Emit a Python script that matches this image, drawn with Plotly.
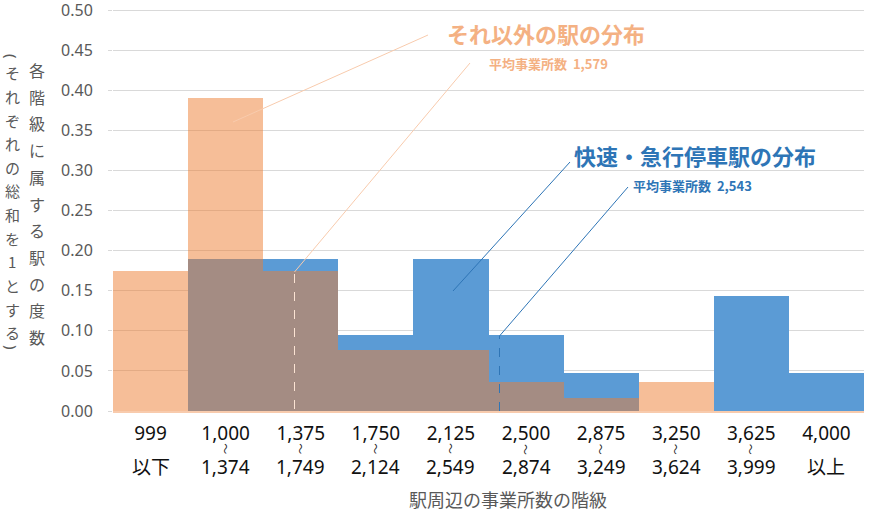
import plotly.graph_objects as go

# ---------------- data ----------------
class_top = ["999", "1,000", "1,375", "1,750", "2,125", "2,500", "2,875", "3,250", "3,625", "4,000"]
class_bottom = ["以下", "1,374", "1,749", "2,124", "2,549", "2,874", "3,249", "3,624", "3,999", "以上"]
class_is_range = [False, True, True, True, True, True, True, True, True, False]

express_share = [0.0, 0.190, 0.190, 0.095, 0.190, 0.095, 0.048, 0.0, 0.143, 0.048]
other_share = [0.174, 0.390, 0.174, 0.076, 0.076, 0.036, 0.016, 0.036, 0.0, 0.0]

y_tick_values = [0.0, 0.05, 0.10, 0.15, 0.20, 0.25, 0.30, 0.35, 0.40, 0.45, 0.50]

other_mean_label = "平均事業所数  1,579"
express_mean_label = "平均事業所数  2,543"
other_title = "それ以外の駅の分布"
express_title = "快速・急行停車駅の分布"

y_title_main = "各階級に属する駅の度数"
y_title_sub = "それぞれの総和を1とする"

# ---------------- layout geometry ----------------
W, H = 870, 512
L, R, T, B = 113, 6, 8, 101
PW, PH = W - L - R, H - T - B
Y_PER_UNIT = 802.0          # pixels per 1.0 on the y scale
Y_TOP = PH / Y_PER_UNIT     # range top so that 0.50 sits at pixel 10

def px_x(p):
    return (p - L) / PW

def px_y(p):
    return (H - B - p) / PH

def dx(p):  # pixel -> data x on the category index scale
    return (p - L) / PW * 10 - 0.5

def dy(p):
    return (H - B - p) / Y_PER_UNIT

idx = list(range(len(class_top)))

ORANGE_TXT = "#f4b183"
BLUE_TXT = "#2e75b6"
GRAY = "#595959"
FONT = "Noto Sans, Noto Sans CJK JP, sans-serif"
CJK = "Noto Sans CJK JP, sans-serif"

fig = go.Figure()
fig.add_trace(go.Bar(
    x=idx, y=express_share, width=1.0,
    marker=dict(color="#5b9bd5", line=dict(width=0)),
    name="快速・急行停車駅", hoverinfo="skip"))
fig.add_trace(go.Bar(
    x=idx, y=other_share, width=1.0,
    marker=dict(color="rgba(237,125,49,0.5)", line=dict(width=0)),
    name="それ以外の駅", hoverinfo="skip"))

annotations = []

def note(x, y, text, size, color, family=CJK, xref="paper", yref="paper", **kw):
    d = dict(x=x, y=y, xref=xref, yref=yref, text=text, showarrow=False,
             xanchor="center", yanchor="middle", font=dict(family=family, size=size, color=color))
    d.update(kw)
    annotations.append(d)

# second/third lines of category labels
for i, (b, rng) in enumerate(zip(class_bottom, class_is_range)):
    if rng:
        note(i, 0, "～", 11, "#222", xref="x", textangle=90, yshift=-38)
    note(i, 0, b, 19, "#111", family=FONT, xref="x", yshift=-56)

# vertical y-axis title (one glyph per annotation)
for k, ch in enumerate(y_title_main):
    note(px_x(37), px_y(70 + 26.7 * k), ch, 16, GRAY)
for k, ch in enumerate(y_title_sub):
    note(px_x(12), px_y(73 + 23.6 * k), ch, 15, GRAY)
note(px_x(12), px_y(56), "(", 15, GRAY, family=FONT, textangle=90)
note(px_x(12), px_y(347), ")", 15, GRAY, family=FONT, textangle=90)

# series callouts
note(px_x(546), px_y(33), "<b>" + other_title + "</b>", 22, ORANGE_TXT)
note(px_x(548), px_y(64), "<b>" + other_mean_label + "</b>", 13, ORANGE_TXT)
note(px_x(695), px_y(155), "<b>" + express_title + "</b>", 22, BLUE_TXT)
note(px_x(692), px_y(186), "<b>" + express_mean_label + "</b>", 13, BLUE_TXT)

# x-axis title
note(px_x(508), px_y(499), "駅周辺の事業所数の階級", 18, GRAY)

shapes = [
    # mean markers (dashed verticals)
    dict(type="line", xref="x", yref="y", x0=dx(294.5), x1=dx(294.5), y0=dy(409), y1=dy(272),
         line=dict(color="#fbe3d3", width=1, dash="dash")),
    dict(type="line", xref="x", yref="y", x0=dx(499.5), x1=dx(499.5), y0=dy(411), y1=dy(336),
         line=dict(color="#2e75b6", width=1, dash="dash")),
    # leader lines
    dict(type="line", xref="x", yref="y", x0=dx(233), y0=dy(122), x1=dx(428), y1=dy(35),
         line=dict(color="#f8cbad", width=1)),
    dict(type="line", xref="x", yref="y", x0=dx(294.5), y0=dy(272), x1=dx(470), y1=dy(63),
         line=dict(color="#f8cbad", width=1)),
    dict(type="line", xref="x", yref="y", x0=dx(453), y0=dy(291), x1=dx(570), y1=dy(162),
         line=dict(color="#2e75b6", width=1)),
    dict(type="line", xref="x", yref="y", x0=dx(499.5), y0=dy(336), x1=dx(628), y1=dy(187),
         line=dict(color="#2e75b6", width=1)),
]

fig.update_layout(
    width=W, height=H,
    margin=dict(l=L, r=R, t=T, b=B, pad=0, autoexpand=False),
    paper_bgcolor="white", plot_bgcolor="white",
    barmode="overlay", bargap=0, showlegend=False,
    annotations=annotations, shapes=shapes,
    xaxis=dict(range=[-0.5, 9.5], tickvals=idx, ticktext=class_top, tickfont=dict(family=FONT, size=19, color="#111"),
               showgrid=False, zeroline=False, showline=True, linecolor="#f8cbad", linewidth=2,
               ticks="", ticklabelstandoff=4, automargin=False, fixedrange=True),
    yaxis=dict(range=[0, Y_TOP], tickvals=y_tick_values, tickformat=".2f",
               tickfont=dict(family=FONT, size=16, color=GRAY), gridcolor="#d9d9d9", gridwidth=1,
               zeroline=False, showline=False, ticks="outside", ticklen=4, tickcolor="#d9d9d9",
               ticklabelstandoff=12, ticklabeloverflow="allow", automargin=False, fixedrange=True),
)

fig.write_html("out.html", config={"displayModeBar": False},
               post_script="document.body.style.margin='0';document.body.style.overflow='hidden';")
